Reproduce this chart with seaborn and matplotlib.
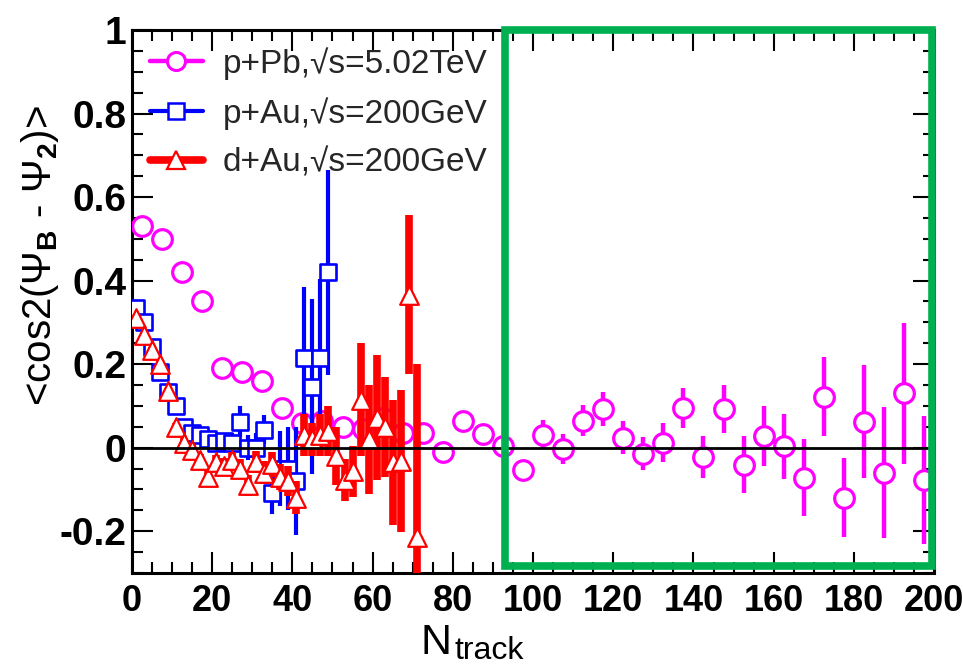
import numpy as np
import pandas as pd
import matplotlib
matplotlib.use("Agg")
import matplotlib.pyplot as plt
from matplotlib import font_manager as fm
from matplotlib.lines import Line2D
from matplotlib.patches import Rectangle
from matplotlib.ticker import MultipleLocator
import seaborn as sns

# ---------------- data ----------------
ppb_x = [2.5, 7.5, 12.5, 17.5, 22.5, 27.5, 32.5, 37.5, 42.5, 47.5,
         52.5, 57.5, 62.5, 67.5, 72.5, 77.5, 82.5, 87.5, 92.5, 97.5,
         102.5, 107.5, 112.5, 117.5, 122.5, 127.5, 132.5, 137.5, 142.5, 147.5,
         152.5, 157.5, 162.5, 167.5, 172.5, 177.5, 182.5, 187.5, 192.5, 197.5]
ppb_y = [0.53, 0.50, 0.42, 0.35, 0.19, 0.18, 0.16, 0.095, 0.06, 0.065,
         0.05, 0.045, 0.07, 0.035, 0.035, -0.01, 0.063, 0.032, 0.005, -0.053,
         0.031, -0.003, 0.065, 0.093, 0.024, -0.014, 0.012, 0.096, -0.022, 0.093,
         -0.041, 0.027, 0.003, -0.072, 0.122, -0.12, 0.062, -0.06, 0.13, -0.077]
ppb_e = [0.005, 0.005, 0.005, 0.005, 0.005, 0.005, 0.006, 0.007, 0.01, 0.01,
         0.01, 0.012, 0.012, 0.012, 0.015, 0.015, 0.015, 0.015, 0.018, 0.02,
         0.035, 0.035, 0.036, 0.04, 0.04, 0.04, 0.046, 0.048, 0.05, 0.058,
         0.068, 0.072, 0.078, 0.092, 0.095, 0.095, 0.135, 0.157, 0.168, 0.153]

pau_x = [1, 3, 5, 7, 9, 11, 13, 15, 17, 19, 21, 23, 25, 27, 29, 31, 33,
         35, 37, 39, 41, 43, 45, 47, 49]
pau_y = [0.335, 0.30, 0.24, 0.18, 0.134, 0.10, 0.05, 0.035, 0.03, 0.02,
         0.01, 0.015, 0.01, 0.062, 0.0, 0.0, 0.043, -0.108, -0.05, -0.05,
         -0.08, 0.215, 0.146, 0.215, 0.42]
pau_e = [0.01, 0.01, 0.01, 0.01, 0.01, 0.012, 0.012, 0.015, 0.015, 0.02,
         0.02, 0.02, 0.025, 0.037, 0.03, 0.035, 0.035, 0.05, 0.09, 0.1,
         0.13, 0.17, 0.21, 0.19, 0.245]

dau_x = [1, 3, 5, 7, 9, 11, 13, 15, 17, 19, 21, 23, 25, 27, 29, 31, 33, 35,
         37, 39, 41, 43, 45, 47, 49, 51, 53, 55, 57, 59, 61, 63, 65, 67, 69, 71]
dau_y = [0.31, 0.27, 0.235, 0.20, 0.135, 0.05, 0.012, -0.005, -0.03, -0.07,
         -0.035, -0.045, -0.03, -0.05, -0.09, -0.035, -0.06, -0.04, -0.07, -0.08,
         -0.12, 0.03, 0.02, 0.03, 0.04, -0.02, -0.077, -0.057, 0.115, 0.02,
         0.072, 0.05, -0.035, -0.033, 0.366, -0.215]
dau_e = [0.006, 0.006, 0.007, 0.008, 0.009, 0.01, 0.012, 0.013, 0.015, 0.016,
         0.018, 0.02, 0.02, 0.022, 0.025, 0.026, 0.028, 0.03, 0.032, 0.035,
         0.04, 0.05, 0.04, 0.05, 0.06, 0.07, 0.05, 0.06, 0.135, 0.13,
         0.15, 0.12, 0.15, 0.17, 0.19, 0.415]

labels = ["p+Pb,\u221as=5.02TeV", "p+Au,\u221as=200GeV", "d+Au,\u221as=200GeV"]
x_ticks = [0, 20, 40, 60, 80, 100, 120, 140, 160, 180, 200]
y_ticks = [-0.2, 0, 0.2, 0.4, 0.6, 0.8, 1]
y_ticklabels = ["-0.2", "0", "0.2", "0.4", "0.6", "0.8", "1"]

# ---------------- style ----------------
sns.set_theme(style="ticks")
plt.rcParams["font.family"] = ["Liberation Sans", "DejaVu Sans"]
plt.rcParams["mathtext.fontset"] = "custom"
plt.rcParams["mathtext.rm"] = "Liberation Sans"
plt.rcParams["mathtext.it"] = "Liberation Sans:italic"
plt.rcParams["mathtext.bf"] = "Liberation Sans:bold"


def has_font(name):
    try:
        fm.findfont(fm.FontProperties(family=name), fallback_to_default=False)
        return True
    except Exception:
        return False


narrow = has_font("Liberation Sans Narrow")
xfont = "Liberation Sans Narrow" if narrow else "Liberation Sans"
xsize = 30 if narrow else 26

MAG, BLU, RED = "#ff00ff", "#0000ff", "#ff0000"

fig = plt.figure(figsize=(9.63, 6.67), dpi=100)
ax = fig.add_axes([0.137, 0.141, 0.833, 0.814])

df_ppb = pd.DataFrame({"x": ppb_x, "y": ppb_y, "e": ppb_e})
df_pau = pd.DataFrame({"x": pau_x, "y": pau_y, "e": pau_e})
df_dau = pd.DataFrame({"x": dau_x, "y": dau_y, "e": dau_e})

series = [
    (df_ppb, MAG, "o", 200, 2.3, 3.2, 2),
    (df_pau, BLU, "s", 125, 1.9, 3.0, 4),
    (df_dau, RED, "^", 180, 1.6, 5.5, 6),
]
for df, col, mk, s, mlw, elw, z in series:
    ax.errorbar(df["x"], df["y"], yerr=df["e"], fmt="none", ecolor=col,
                elinewidth=elw, capsize=0, zorder=z)
    sns.scatterplot(data=df, x="x", y="y", ax=ax, marker=mk, s=s,
                    facecolor="white", edgecolor=col, linewidth=mlw,
                    zorder=z + 1, legend=False)

ax.axhline(0, color="black", lw=2, zorder=9)

ax.set_xlim(0, 200)
ax.set_ylim(-0.3, 1.0)
ax.set_xticks(x_ticks)
ax.set_yticks(y_ticks)
ax.set_yticklabels(y_ticklabels)
ax.xaxis.set_minor_locator(MultipleLocator(5))
ax.yaxis.set_minor_locator(MultipleLocator(0.05))
ax.tick_params(which="both", direction="in", top=True, right=True,
               width=1.5, color="black")
ax.tick_params(which="major", length=15)
ax.tick_params(which="minor", length=8)
ax.tick_params(axis="y", which="major", pad=4)
ax.tick_params(axis="x", which="major", pad=8)
for lab in ax.get_yticklabels():
    lab.set_fontsize(28)
    lab.set_fontweight("bold")
    lab.set_color("black")
for lab in ax.get_xticklabels():
    lab.set_family([xfont, "DejaVu Sans"])
    lab.set_fontsize(xsize)
    lab.set_fontweight("bold")
    lab.set_color("black")
for sp in ax.spines.values():
    sp.set_linewidth(2.2)
    sp.set_color("black")
ax.set_xlabel("")
ax.set_ylabel(r"<cos2($\Psi_{\mathbf{B}}$ - $\Psi_{\mathbf{2}}$)>",
              fontsize=29, color="black")
ax.yaxis.set_label_coords(-0.088, 0.585)

# x title: N with subscript "track"
fig.text(420 / 963, 1 - 654 / 667, "N", fontsize=31, color="black",
         ha="left", va="baseline")
fig.text(454 / 963, 1 - 659 / 667, "track", fontsize=23, color="black",
         ha="left", va="baseline")

# green highlight box
ax.add_patch(Rectangle((93.1, -0.283), 199.4 - 93.1, 1.283, fill=False,
                       edgecolor="#00b050", lw=5.5, clip_on=False, zorder=12))

handles = [
    Line2D([], [], color=MAG, lw=3.2, marker="o", ms=13, mfc="white",
           mec=MAG, mew=2.2),
    Line2D([], [], color=BLU, lw=3.0, marker="s", ms=11, mfc="white",
           mec=BLU, mew=1.8),
    Line2D([], [], color=RED, lw=5.5, marker="^", ms=13, mfc="white",
           mec=RED, mew=1.6),
]
ax.legend(handles, labels, loc="upper left", bbox_to_anchor=(0.022, 0.968),
          frameon=False, fontsize=24, handlelength=1.6, handletextpad=0.6,
          labelspacing=0.52, borderpad=0, borderaxespad=0)

fig.savefig("out.png", dpi=100)
